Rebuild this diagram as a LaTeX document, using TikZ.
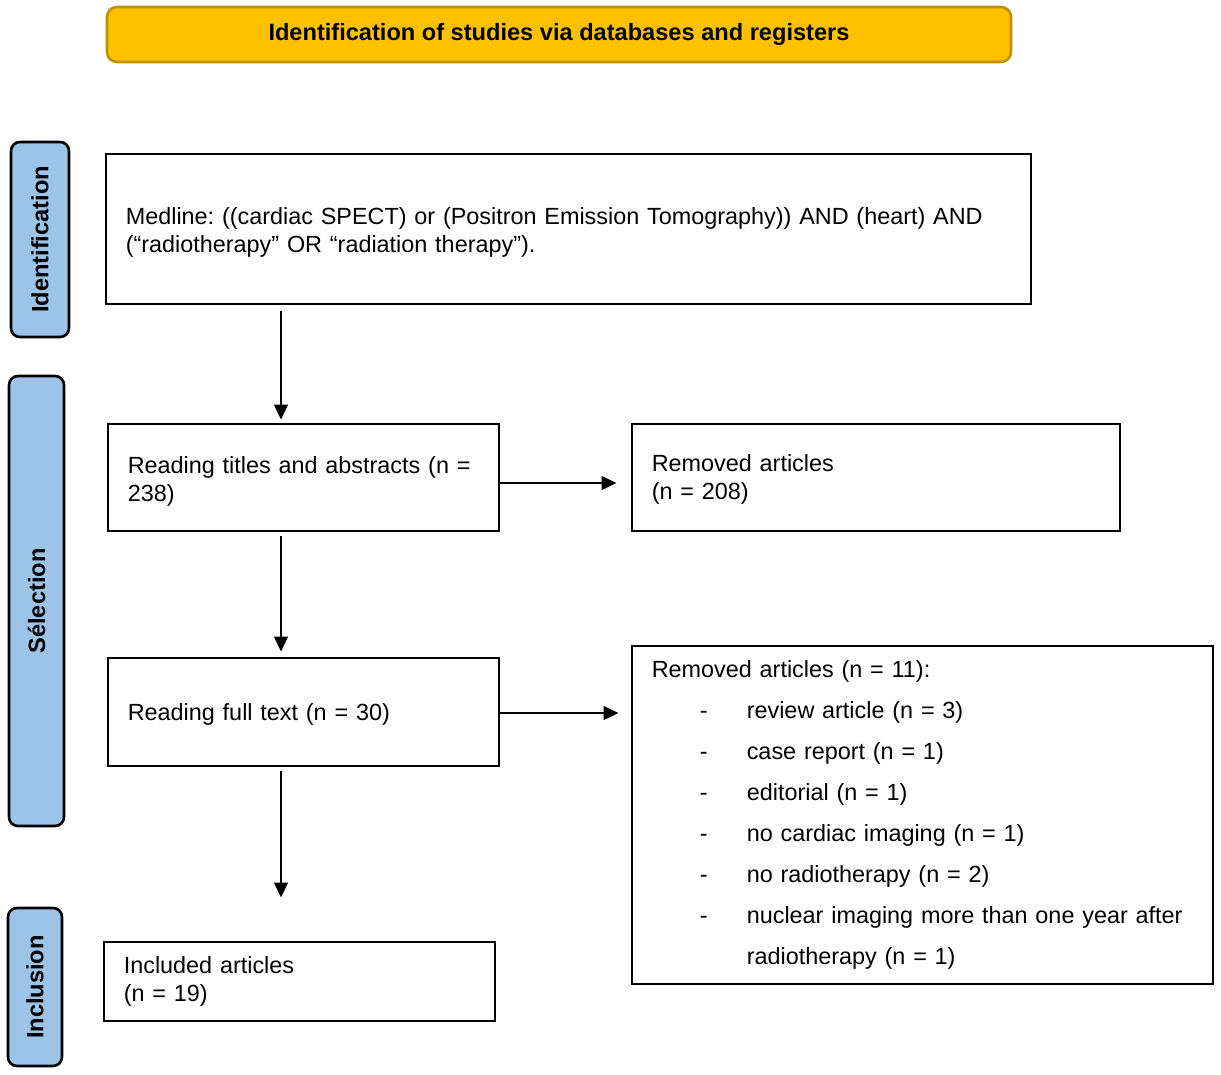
\documentclass[tikz,border=0pt]{standalone}
\usepackage{fontspec}
\setmainfont{Liberation Sans}
\usepackage{tikz}
\usetikzlibrary{arrows.meta}

\definecolor{bannerfill}{RGB}{255,192,0}
\definecolor{bannerdraw}{RGB}{191,144,0}
\definecolor{stagefill}{RGB}{157,195,230}

\frenchspacing
\begin{document}
\begin{tikzpicture}[x=1pt,y=1pt,yscale=-1,
  box/.style={draw, line width=2.6pt, anchor=north west, inner xsep=20pt, inner ysep=0pt, align=left, font=\fontsize{23.4}{28}\selectfont},
  lowtext/.style={text depth=25pt},
  stage/.style={draw, line width=2.6pt, fill=stagefill, rounded corners=9pt, inner sep=0pt, rotate=90, font=\bfseries\fontsize{23.6}{26}\selectfont},
  arr/.style={line width=1.3pt, -{Triangle[length=15pt,width=14pt]}}]
\useasboundingbox (0,0) rectangle (1221,1074);

%Shape: Rounded Rect [banner]
\node[draw=bannerdraw, fill=bannerfill, line width=2.6pt, rounded corners=10pt, minimum width=904pt, minimum height=55pt, font=\bfseries\fontsize{23.6}{26}\selectfont] (banner) at (559,34.5) {Identification of studies via databases and registers};

%Shape: Rounded Rect [stages]
\node[stage, minimum width=195pt, minimum height=58pt] (ident) at (40,239.5) {Identification};
\node[stage, minimum width=450pt, minimum height=55pt] (select) at (36.5,601) {Sélection};
\node[stage, minimum width=158pt, minimum height=54pt] (incl) at (35,987) {Inclusion};

%Shape: Rectangle [boxes]
\node[box, lowtext, minimum width=925pt, minimum height=150pt, text width=885pt] (medline) at (104.5,152.5) {Medline: ((cardiac SPECT) or (Positron Emission Tomography)) AND (heart) AND\\(“radiotherapy” OR “radiation therapy”).};
\node[box, lowtext, minimum width=391pt, minimum height=107pt, text width=351pt] (titles) at (106.5,422.5) {Reading titles and abstracts (n =\\238)};
\node[box, text depth=29pt, minimum width=488pt, minimum height=107pt, text width=448pt] (removedA) at (630.5,422.5) {Removed articles\\(n = 208)};
\node[box, text depth=-4pt, minimum width=391pt, minimum height=108pt, text width=351pt] (fulltext) at (106.5,656.5) {Reading full text (n = 30)};
\node[box, minimum width=581pt, minimum height=338pt, text width=541pt, font=\fontsize{23.4}{41}\selectfont] (removedB) at (630.5,644.5) {Removed articles (n = 11):\\
\hspace*{48pt}\makebox[47pt][l]{-}review article (n = 3)\\
\hspace*{48pt}\makebox[47pt][l]{-}case report (n = 1)\\
\hspace*{48pt}\makebox[47pt][l]{-}editorial (n = 1)\\
\hspace*{48pt}\makebox[47pt][l]{-}no cardiac imaging (n = 1)\\
\hspace*{48pt}\makebox[47pt][l]{-}no radiotherapy (n = 2)\\
\hspace*{48pt}\makebox[47pt][l]{-}nuclear imaging more than one year after\\
\hspace*{95pt}radiotherapy (n = 1)};
\node[box, minimum width=391pt, minimum height=79pt, text width=351pt, inner xsep=19pt] (included) at (102.5,940.5) {Included articles\\(n = 19)};

%Straight Lines [arrows]
\coordinate (xa) at (281,0);
\coordinate (ya) at (0,483);
\coordinate (yb) at (0,713);
\draw[arr, shorten <=6pt, shorten >=3pt] (medline.south -| xa) -- (titles.north -| xa);
\draw[arr, shorten <=4pt, shorten >=5pt] (titles.south -| xa) -- (fulltext.north -| xa);
\draw[arr, shorten <=4pt, shorten >=43pt] (fulltext.south -| xa) -- (included.north -| xa);
\draw[arr, shorten >=14pt] (titles.east |- ya) -- (removedA.west |- ya);
\draw[arr, shorten >=12pt] (fulltext.east |- yb) -- (removedB.west |- yb);

\end{tikzpicture}
\end{document}
